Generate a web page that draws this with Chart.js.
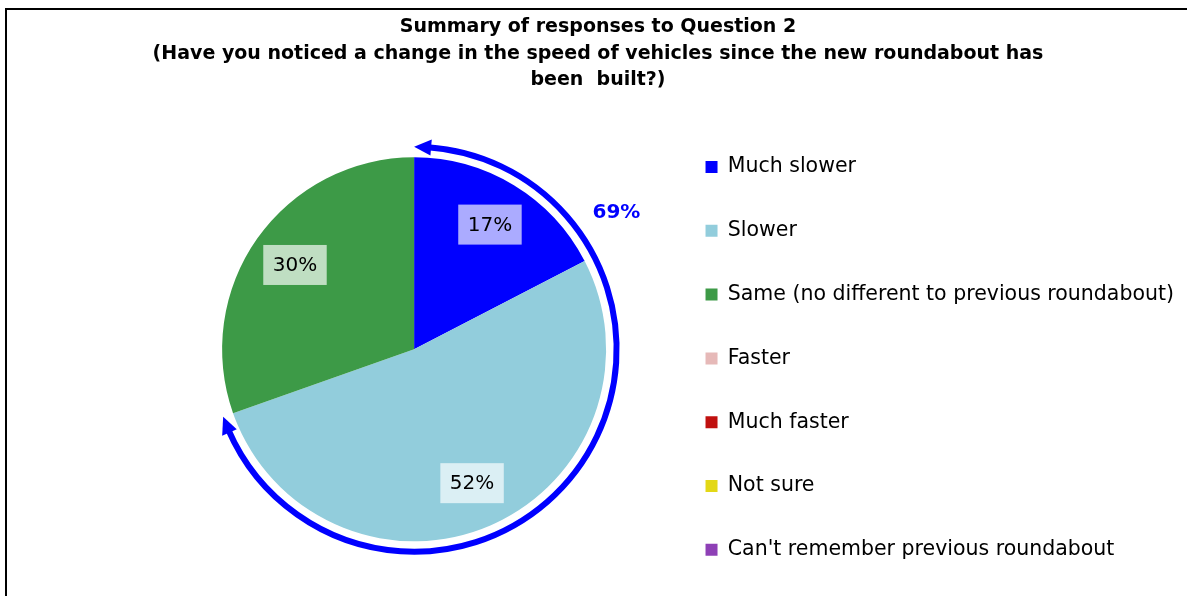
<!DOCTYPE html>
<html>
<head>
<meta charset="utf-8">
<script src="https://cdn.jsdelivr.net/npm/chart.js@4"></script>
<style>
  html, body { margin: 0; padding: 0; background: #fff; overflow: hidden; width: 1187px; height: 596px; }
  #frame { position: absolute; left: 5px; top: 8px; width: 1200px; height: 620px; border: 2px solid #000; }
  #chart { position: absolute; left: 12px; top: 0; }
</style>
</head>
<body>
<div id="frame"></div>
<canvas id="chart" width="1172" height="605"></canvas>
<script>
const titleLines = [
    'Summary of responses to Question 2',
    '(Have you noticed a change in the speed of vehicles since the new roundabout has',
    'been  built?)'
];
const categories = [
    'Much slower',
    'Slower',
    'Same (no different to previous roundabout)',
    'Faster',
    'Much faster',
    'Not sure',
    "Can't remember previous roundabout"
];
// percentuali
const percentages = [17.4, 52.2, 30.4, 0, 0, 0, 0];
const sliceColors = ['#0000FF', '#92CDDC', '#3D9A47', '#E6B9B8', '#C0100F', '#E3D816', '#8E40B6'];
// fette coperte dalla freccia blu
const arrowSlices = [0, 1];

const FONT = "'DejaVu Sans', sans-serif";

// etichette percentuali con riquadro chiaro
const sliceLabels = {
    id: 'sliceLabels',
    afterDatasetsDraw(chart) {
        const ctx = chart.ctx;
        const meta = chart.getDatasetMeta(0);
        ctx.save();
        ctx.font = '20px ' + FONT;
        ctx.textAlign = 'center';
        ctx.textBaseline = 'middle';
        meta.data.forEach((arc, i) => {
            const v = percentages[i];
            if (!v) return;
            const mid = (arc.startAngle + arc.endAngle) / 2;
            const r = arc.outerRadius * 0.76;
            const x = arc.x + Math.cos(mid) * r;
            const y = arc.y + Math.sin(mid) * r;
            const txt = Math.round(v) + '%';
            const w = ctx.measureText(txt).width + 19;
            const h = 40;
            ctx.fillStyle = 'rgba(255,255,255,0.67)';
            ctx.fillRect(x - w / 2, y - h / 2, w, h);
            ctx.fillStyle = '#000';
            ctx.fillText(txt, x, y + 1);
        });
        ctx.restore();
    }
};

// freccia curva con il totale
const sumArrow = {
    id: 'sumArrow',
    afterDatasetsDraw(chart) {
        const ctx = chart.ctx;
        const meta = chart.getDatasetMeta(0);
        const first = meta.data[arrowSlices[0]];
        const last = meta.data[arrowSlices[arrowSlices.length - 1]];
        const cx = first.x, cy = first.y;
        const R = first.outerRadius + 10.5;
        const a0 = first.startAngle, a1 = last.endAngle;
        const headLen = 17, headHalf = 8;
        const dA = headLen / R;

        ctx.save();
        ctx.strokeStyle = '#0000FF';
        ctx.fillStyle = '#0000FF';
        ctx.lineWidth = 6;
        ctx.beginPath();
        ctx.arc(cx, cy, R, a0 + dA * 0.8, a1 - dA * 0.8);
        ctx.stroke();

        const head = (tipA, baseA) => {
            const tx = cx + Math.cos(tipA) * R, ty = cy + Math.sin(tipA) * R;
            const bx = cx + Math.cos(baseA) * R, by = cy + Math.sin(baseA) * R;
            const ux = Math.cos(baseA), uy = Math.sin(baseA);
            ctx.beginPath();
            ctx.moveTo(tx, ty);
            ctx.lineTo(bx + ux * headHalf, by + uy * headHalf);
            ctx.lineTo(bx - ux * headHalf, by - uy * headHalf);
            ctx.closePath();
            ctx.fill();
        };
        head(a0, a0 + dA);
        head(a1, a1 - dA);

        const total = arrowSlices.reduce((s, i) => s + Math.round(percentages[i]), 0);
        const la = -34 * Math.PI / 180;
        const lr = first.outerRadius + 52;
        ctx.font = 'bold 20px ' + FONT;
        ctx.textAlign = 'center';
        ctx.textBaseline = 'middle';
        ctx.fillText(total + '%', cx + Math.cos(la) * lr, cy + Math.sin(la) * lr);
        ctx.restore();
    }
};

new Chart(document.getElementById('chart'), {
    type: 'pie',
    data: {
        labels: categories,
        datasets: [{
            data: percentages,
            backgroundColor: sliceColors,
            borderWidth: 0,
            radius: 192
        }]
    },
    options: {
        responsive: false,
        animation: false,
        devicePixelRatio: 1,
        plugins: {
            title: {
                display: true,
                text: titleLines,
                color: '#000',
                font: { family: FONT, size: 19, weight: 'bold', lineHeight: 26.5 / 19 },
                padding: { top: 14, bottom: 0 }
            },
            // spazio vuoto a sinistra della torta
            subtitle: {
                display: true,
                position: 'left',
                text: ' ',
                font: { size: 10, lineHeight: 1 },
                padding: { top: 72, bottom: 72 }
            },
            legend: {
                position: 'right',
                align: 'center',
                maxWidth: 600,
                title: { display: true, text: ' ', font: { size: 13, lineHeight: 1 }, padding: { top: 49.4, bottom: 49.4 } },
                labels: {
                    color: '#000',
                    font: { family: FONT, size: 20.5 },
                    boxWidth: 12,
                    boxHeight: 12,
                    padding: 43.3
                }
            },
            tooltip: { enabled: false }
        }
    },
    plugins: [sliceLabels, sumArrow]
});
</script>
</body>
</html>
